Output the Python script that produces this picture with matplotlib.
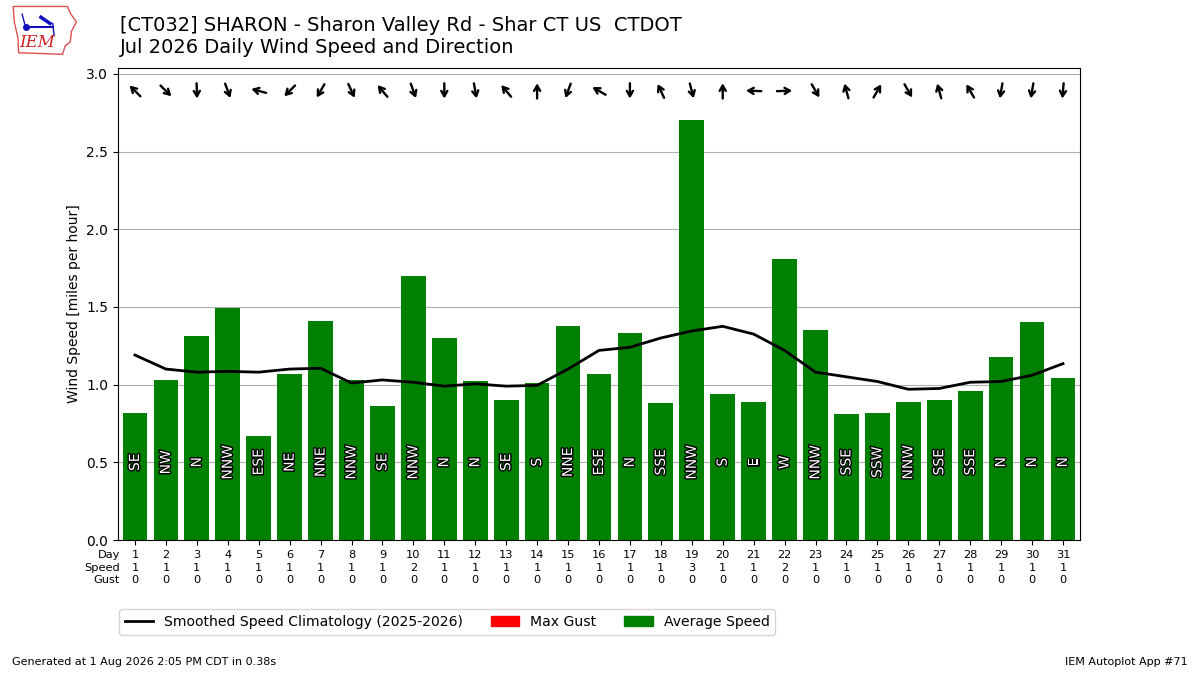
"""Daily wind speed and direction for CT032 Sharon, Jul 2026."""
import numpy as np
import matplotlib
matplotlib.use("Agg")
import matplotlib.pyplot as plt
import matplotlib.patheffects as pe
import matplotlib.transforms as mtransforms
from matplotlib.patches import Patch, Polygon
from matplotlib.lines import Line2D

days = list(range(1, 32))
avg_speed = [0.82, 1.03, 1.31, 1.49, 0.67, 1.07, 1.41, 1.03, 0.86, 1.70,
             1.30, 1.02, 0.90, 1.01, 1.38, 1.07, 1.33, 0.88, 2.70, 0.94,
             0.89, 1.81, 1.35, 0.81, 0.82, 0.89, 0.90, 0.96, 1.18, 1.40,
             1.04]
max_gust = [0] * 31
climo = [1.19, 1.10, 1.08, 1.085, 1.08, 1.10, 1.105, 1.01, 1.03, 1.015,
         0.99, 1.005, 0.99, 0.995, 1.10, 1.22, 1.24, 1.30, 1.345, 1.375,
         1.325, 1.22, 1.08, 1.05, 1.02, 0.97, 0.975, 1.015, 1.02, 1.06,
         1.135]
drct_deg = [135, 315, 358, 340, 105, 45, 30, 335, 140, 340,
            0, 350, 140, 180, 20, 120, 0, 155, 345, 180,
            92, 268, 330, 165, 210, 330, 165, 150, 10, 10,
            5]
drct_txt = ["SE", "NW", "N", "NNW", "ESE", "NE", "NNE", "NNW", "SE", "NNW",
            "N", "N", "SE", "S", "NNE", "ESE", "N", "SSE", "NNW", "S",
            "E", "W", "NNW", "SSE", "SSW", "NNW", "SSE", "SSE", "N", "N",
            "N"]

fig = plt.figure(figsize=(12, 6.75), dpi=100)
ax = fig.add_axes([0.0983, 0.2, 0.8017, 0.6993])

ax.bar(days, max_gust, width=0.8, color="r", zorder=2)
ax.bar(days, avg_speed, width=0.8, color="green", zorder=2)
ax.plot(days, climo, color="k", lw=2, zorder=4)

half = 5.5  # half arrow length, points
for d, deg, txt in zip(days, drct_deg, drct_txt):
    ax.text(d, 0.5, txt, rotation=90, ha="center", va="center", color="w",
            fontsize=10, zorder=5,
            path_effects=[pe.withStroke(linewidth=2, foreground="k")])
    # arrow points the way the wind blows toward
    ang = np.radians(deg + 180)
    ux, uy = np.sin(ang) * half, np.cos(ang) * half
    tip = mtransforms.offset_copy(ax.transData, fig, x=ux, y=uy, units="points")
    tail = mtransforms.offset_copy(ax.transData, fig, x=-ux, y=-uy, units="points")
    ax.annotate("", xy=(d, 2.89), xycoords=tip, xytext=(d, 2.89),
                textcoords=tail, zorder=5,
                arrowprops=dict(arrowstyle="->,head_length=0.38,head_width=0.22",
                                lw=1.7, color="k", shrinkA=0, shrinkB=0))

ymax = max(avg_speed) * 1.125
ax.set_ylim(0, ymax)
ax.set_xlim(0.45, 31.55)
ax.set_yticks([0, 0.5, 1.0, 1.5, 2.0, 2.5, 3.0])
ax.yaxis.grid(True, color="#b0b0b0", zorder=1)
ax.set_axisbelow(True)
ax.set_ylabel("Wind Speed [miles per hour]")

ax.set_xticks(days)
ax.set_xticklabels([f"{d}\n{round(s)}\n{g}" for d, s, g in
                    zip(days, avg_speed, max_gust)], fontsize=8.2)
for t in ax.get_xticklabels():
    t.set_linespacing(1.35)
ax.text(0.002, -0.0208, "Day\nSpeed\nGust", transform=ax.transAxes,
        ha="right", va="top", fontsize=8.2, linespacing=1.35)

handles = [Line2D([], [], color="k", lw=2),
           Patch(color="r"), Patch(color="green")]
ax.legend(handles, ["Smoothed Speed Climatology (2025-2026)", "Max Gust",
                    "Average Speed"], ncol=3, loc="upper left",
          bbox_to_anchor=(-0.006, -0.132), fontsize=10.1)

fig.text(0.1, 0.946, "[CT032] SHARON - Sharon Valley Rd - Shar CT US  CTDOT\n"
         "Jul 2026 Daily Wind Speed and Direction", fontsize=14,
         ha="left", va="center")
fig.text(0.01, 0.012, "Generated at 1 Aug 2026 2:05 PM CDT in 0.38s",
         fontsize=8, ha="left", va="bottom")
fig.text(0.99, 0.012, "IEM Autoplot App #71", fontsize=8,
         ha="right", va="bottom")

# rough IEM logo
lax = fig.add_axes([0.008, 0.915, 0.058, 0.08])
lax.set_xlim(0, 10)
lax.set_ylim(0, 7)
lax.axis("off")
iowa = [(0.5, 6.6), (8.3, 6.6), (8.8, 5.6), (9.6, 4.6), (8.9, 3.4),
        (8.7, 2.0), (8.0, 1.5), (7.6, 0.4), (1.3, 0.6), (1.2, 2.5),
        (0.7, 4.5), (0.5, 6.6)]
lax.add_patch(Polygon(iowa, closed=True, fill=False, ec="#e05050", lw=1))
lax.plot([2.3, 6.2], [3.9, 3.9], color="#1010c0", lw=1.5)
lax.plot([2.3], [3.9], "o", color="#1010c0", ms=4)
lax.plot([1.8, 2.3], [5.6, 3.9], color="#1010c0", lw=1)
lax.plot([4.5, 5.8], [5.2, 4.4], color="#1010c0", lw=2.5)
lax.plot([6.2, 6.4], [4.4, 2.8], color="#1010c0", lw=1)
lax.text(3.9, 1.9, "IEM", color="#d02020", fontsize=12, fontstyle="italic",
         family="DejaVu Serif", ha="center", va="center")

fig.savefig("out.png", dpi=100)
